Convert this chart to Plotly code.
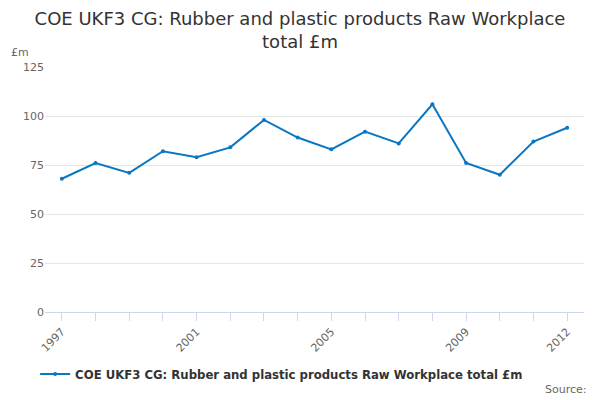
import plotly.graph_objects as go

years = list(range(1997, 2013))
values = [68, 76, 71, 82, 79, 84, 98, 89, 83, 92, 86, 106, 76, 70, 87, 94]
label_years = [1997, 2001, 2005, 2009, 2012]
ytick_vals = [0, 25, 50, 75, 100, 125]

series_name = "COE UKF3 CG: Rubber and plastic products Raw Workplace total £m"

fig = go.Figure()
fig.add_trace(go.Scatter(
    x=years, y=values, mode="lines+markers", name="<b>" + series_name + "</b>",
    line=dict(color="#0a77c2", width=2),
    marker=dict(size=4, color="#0a77c2"),
))

fig.update_layout(
    width=600, height=400,
    margin=dict(l=45, r=16, t=67, b=88),
    paper_bgcolor="white", plot_bgcolor="white",
    font=dict(family="DejaVu Sans", color="#333333"),
    title=dict(text="COE UKF3 CG: Rubber and plastic products Raw Workplace<br>total £m",
               x=0.5, xanchor="center", xref="container", yref="container",
               y=0.9375, yanchor="top",
               font=dict(size=18, color="#333333")),
    showlegend=True,
    legend=dict(orientation="h", x=0.439, xanchor="center", yref="container",
                y=0.065, yanchor="middle",
                font=dict(size=11.7, color="#333333"),
                itemwidth=30),
    xaxis=dict(range=[1996.5, 2012.5], tickvals=years,
               ticktext=[str(y) if y in label_years else "" for y in years],
               tickangle=-45, ticks="outside", ticklen=8, tickcolor="#ccd6eb",
               showline=True, linecolor="#ccd6eb", showgrid=False, zeroline=False,
               automargin=False,
               tickfont=dict(size=11, color="#666666")),
    yaxis=dict(range=[0, 125], tickvals=ytick_vals, showgrid=True, gridcolor="#e6e6e6",
               zeroline=False, showline=False, ticks="", automargin=False,
               tickfont=dict(size=11, color="#666666")),
    annotations=[
        dict(text="£m", xref="paper", yref="paper", x=-0.067, y=1.061, xanchor="left",
             yanchor="middle", showarrow=False, font=dict(size=11, color="#666666")),
        dict(text="Source:", xref="paper", yref="paper", x=1.009, y=-0.318, xanchor="right",
             yanchor="middle", showarrow=False, font=dict(size=11, color="#666666")),
    ],
)

fig.write_html("out.html", config={"displayModeBar": False},
               post_script="document.body.style.margin='0';")
